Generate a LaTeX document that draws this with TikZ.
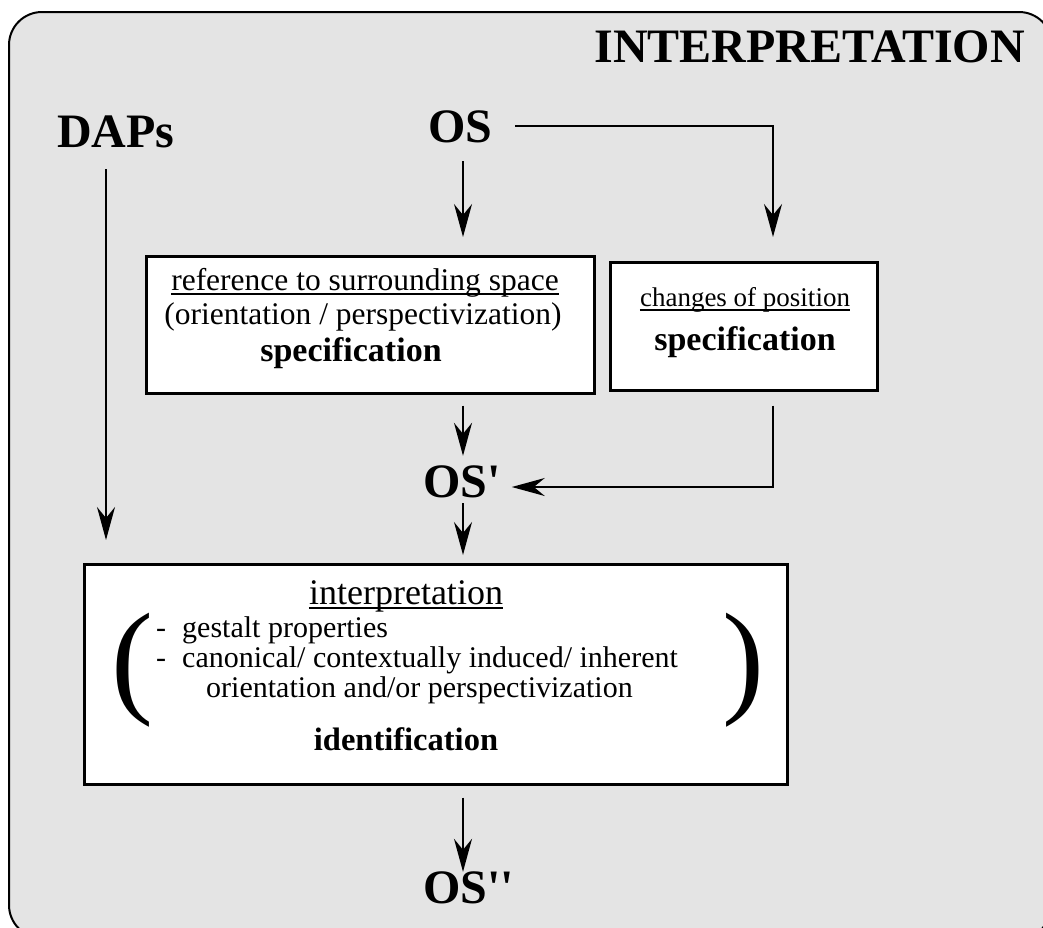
\documentclass[tikz,border=0pt]{standalone}
\usepackage{fontspec}
\setmainfont{Liberation Serif}
\usetikzlibrary{arrows.meta}
\definecolor{bggray}{RGB}{228,228,228}
\begin{document}
\begin{tikzpicture}[x=1pt,y=-1pt,
  big/.style={font=\fontsize{48}{52}\selectfont\bfseries, inner sep=0pt, text height=33pt, text depth=0pt},
  txt/.style={font=\fontsize{31.5}{34}\selectfont, inner sep=0pt},
  btxt/.style={font=\fontsize{34}{36}\selectfont\bfseries, inner sep=0pt},
  ltxt/.style={font=\fontsize{30}{33}\selectfont, inner sep=0pt},
  paren/.style={font=\fontsize{126}{130}\selectfont, inner sep=0pt},
  boxx/.style={draw, line width=2.5pt, fill=white, inner sep=0pt, anchor=north west},
  uline/.style={line width=1.5pt},
  arr/.style={line width=2pt, -{Stealth[length=33pt,width=18pt,inset=11pt]}}]
\useasboundingbox (0,0) rectangle (1043,927);
\draw[line width=2pt, fill=bggray, rounded corners=33pt] (9,12) rectangle (1052,938);

\node[big, anchor=base east] (title) at (1025,62) {INTERPRETATION};
\node[big, anchor=base west] (daps) at (57,147) {DAPs};
\node[big, anchor=base west] (os) at (428,142) {OS};
\node[big, anchor=base west] (osp) at (423,497) {OS\textquotesingle};
\node[big, anchor=base west] (ospp) at (423,903) {OS\textquotesingle\textquotesingle};

\coordinate (c0) at (106,0);
\coordinate (c1) at (463,0);
\coordinate (c2) at (773,0);

% box 1
\node[boxx, minimum width=448pt, minimum height=137pt] (box1) at (145,255) {};
\node[txt, anchor=base] (b1a) at (365,290) {reference to surrounding space};
\draw[uline] ([yshift=-4pt]b1a.base west) -- ([yshift=-4pt]b1a.base east);
\node[txt, anchor=base] (b1b) at (363,324) {(orientation / perspectivization)};
\node[btxt, anchor=base] (b1c) at (351,361) {specification};

% box 2
\node[boxx, minimum width=267pt, minimum height=128pt] (box2) at (609,261) {};
\node[font=\fontsize{27}{30}\selectfont, inner sep=0pt, anchor=base] (b2a) at (745,306) {changes of position};
\draw[uline] ([yshift=-4pt]b2a.base west) -- ([yshift=-4pt]b2a.base east);
\node[btxt, anchor=base] (b2b) at (745,350) {specification};

% box 3
\node[boxx, minimum width=703pt, minimum height=220pt] (box3) at (83,563) {};
\node[font=\fontsize{36}{40}\selectfont, inner sep=0pt, anchor=base] (b3a) at (406,604) {interpretation};
\draw[uline] ([yshift=-4pt]b3a.base west) -- ([yshift=-4pt]b3a.base east);
\node[ltxt, anchor=base west] (d1) at (156,637) {-};
\node[ltxt, anchor=base west] (b3b) at (182,637) {gestalt properties};
\node[ltxt, anchor=base west] (d2) at (156,667) {-};
\node[ltxt, anchor=base west] (b3c) at (182,667) {canonical/ contextually induced/ inherent};
\node[ltxt, anchor=base west] (b3d) at (206,697) {orientation and/or perspectivization};
\node[font=\fontsize{32.5}{36}\selectfont\bfseries, inner sep=0pt, anchor=base] (b3e) at (406,750) {identification};
\node[paren, anchor=base west] (lp) at (111,700) {(};
\node[paren, anchor=base west] (rp) at (722,700) {)};

% connectors
\draw[arr, shorten <=22pt, shorten >=23pt] (daps.south -| c0) -- (box3.north -| c0);
\draw[arr, shorten <=19pt, shorten >=18pt] (os.south -| c1) -- (box1.north -| c1);
\draw[arr, shorten <=23pt, shorten >=24pt] (os.east) -- (os.east -| c2) -- (box2.north -| c2);
\draw[arr, shorten <=11pt, shorten >=8pt] (box1.south -| c1) -- (osp.north -| c1);
\draw[arr, shorten <=14pt, shorten >=11pt] (box2.south -| c2) -- ([yshift=-6.5pt]osp.east -| c2) -- ([yshift=-6.5pt]osp.east);
\draw[arr, shorten <=6pt, shorten >=8pt] (osp.south -| c1) -- (box3.north -| c1);
\draw[arr, shorten <=12pt, shorten >=-2pt] (box3.south -| c1) -- (ospp.north -| c1);
\end{tikzpicture}
\end{document}
